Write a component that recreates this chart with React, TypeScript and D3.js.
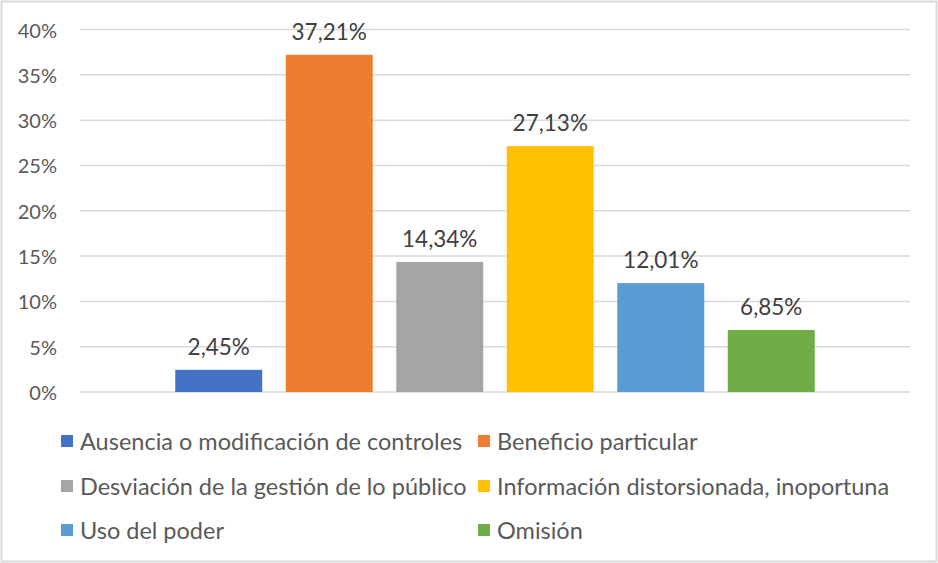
import { useEffect } from "react";
import { scaleBand, scaleLinear } from "d3";

const series = [
  "Ausencia o modificación de controles",
  "Beneficio particular",
  "Desviación de la gestión de lo público",
  "Información distorsionada, inoportuna",
  "Uso del poder",
  "Omisión",
];
const values = [2.45, 37.21, 14.34, 27.13, 12.01, 6.85];
const valueLabels = ["2,45%", "37,21%", "14,34%", "27,13%", "12,01%", "6,85%"];
const colors = ["#4472C4", "#ED7D31", "#A5A5A5", "#FFC000", "#5B9BD5", "#70AD47"];
const ticks = [0, 5, 10, 15, 20, 25, 30, 35, 40];

const W = 938;
const H = 563;
const plot = { left: 80, right: 910, top: 29.5, bottom: 392 };
const textColor = "#595959";
const font = "Lato, 'Open Sans', sans-serif";

export default function App() {
  useEffect(() => {
    document.body.style.margin = "0";
  }, []);

  const x = scaleBand<string>()
    .domain(series)
    .range([plot.left, plot.right])
    .paddingInner(0.213)
    .paddingOuter(0.862);

  const y = scaleLinear().domain([0, 40]).range([plot.bottom, plot.top]);

  // legend: two columns, three rows
  const legendCols = [61, 478];
  const legendRows = [441, 486, 530];

  return (
    <svg width={W} height={H} style={{ display: "block", fontFamily: font }}>
      <rect x={0} y={0} width={W} height={H} fill="#fff" />
      <rect
        x={1.5}
        y={1.5}
        width={W - 3}
        height={H - 3}
        fill="none"
        stroke="#d9d9d9"
        strokeWidth={2}
      />
      {ticks.map((t) => (
        <g key={`tick-${t}`}>
          <line
            x1={plot.left}
            x2={plot.right}
            y1={y(t)}
            y2={y(t)}
            stroke="#d9d9d9"
            strokeWidth={1.5}
          />
          <text
            x={57}
            y={y(t)}
            textAnchor="end"
            dominantBaseline="central"
            fontSize={20}
            fill={textColor}
          >
            {`${t}%`}
          </text>
        </g>
      ))}
      {series.map((s, i) => (
        <g key={`bar-${s}`}>
          <rect
            x={x(s)}
            y={y(values[i])}
            width={x.bandwidth()}
            height={plot.bottom - y(values[i])}
            fill={colors[i]}
          />
          <text
            x={(x(s) ?? 0) + x.bandwidth() / 2}
            y={y(values[i]) - 15}
            textAnchor="middle"
            fontSize={22.5}
            fill="#404040"
          >
            {valueLabels[i]}
          </text>
        </g>
      ))}
      {series.map((s, i) => {
        const cx = legendCols[i % 2];
        const cy = legendRows[Math.floor(i / 2)];
        return (
          <g key={`legend-${s}`}>
            <rect x={cx} y={cy - 6} width={12} height={12} fill={colors[i]} />
            <text
              x={cx + 19}
              y={cy}
              dominantBaseline="central"
              fontSize={23.5}
              fill={textColor}
            >
              {s}
            </text>
          </g>
        );
      })}
    </svg>
  );
}
